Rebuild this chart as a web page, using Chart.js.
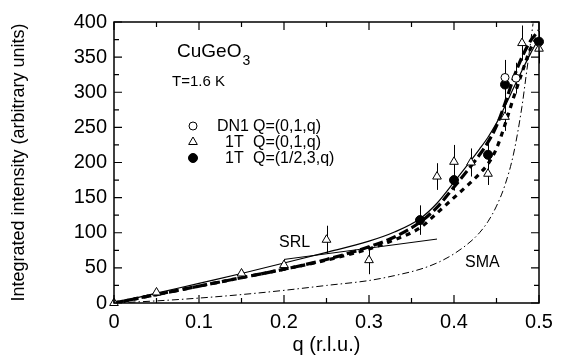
<!DOCTYPE html>
<html><head><meta charset="utf-8">
<script src="https://cdn.jsdelivr.net/npm/chart.js@4/dist/chart.umd.min.js"></script>
<style>html,body{margin:0;padding:0;background:#fff}#wrap{width:567px;height:360px;position:relative}</style>
</head><body><div id="wrap"><canvas id="c" width="567" height="360"></canvas></div>
<script>
// ---- data ----
const xTickLabels = ['0', '0.1', '0.2', '0.3', '0.4', '0.5'];
const yTickLabels = ['0', '50', '100', '150', '200', '250', '300', '350', '400'];

// fitted curves
const fitQ         = [0, 0.05, 0.1, 0.15, 0.2, 0.25, 0.3, 0.33, 0.36, 0.38, 0.4, 0.42, 0.43, 0.44, 0.45, 0.46, 0.47, 0.48, 0.49, 0.5];
const fitSolid     = [0, 14, 28, 42, 57, 72, 88, 101, 120, 142, 172, 203, 219, 236, 256, 280, 306, 331, 355, 377];
const fitLongDash  = [0, 12, 24, 36, 48, 62, 80, 94, 115, 136, 165, 195, 211, 229, 252, 284, 320, 350, 373, 388];
const fitShortDash = [0, 12, 24, 36, 48, 61, 77, 90, 107, 128, 150, 172, 184, 198, 220, 254, 292, 328, 362, 382];
const smaQ = [0, 0.05, 0.1, 0.15, 0.2, 0.25, 0.3, 0.33, 0.36, 0.38, 0.4, 0.42, 0.43, 0.44, 0.45, 0.46, 0.47, 0.48, 0.485, 0.49, 0.493];
const smaY = [0, 3, 7, 12, 18, 25, 32, 39, 48, 57, 70, 88, 100, 116, 138, 168, 212, 280, 325, 370, 398];
const srlQ = [0.2, 0.38];
const srlY = [62, 91];

// measured points
const dn1Q   = [0.46, 0.473];
const dn1Y   = [321, 320];
const dn1Err = [25, 22];
const t1Q    = [0, 0.05, 0.15, 0.2, 0.25, 0.3, 0.38, 0.4, 0.42, 0.44, 0.46, 0.48, 0.5];
const t1Y    = [0, 15, 42, 54, 90, 61, 180, 201, 200, 184, 265, 370, 362];
const t1Err  = [0, 3, 5, 8, 20, 20, 19, 24, 20, 16, 20, 25, 21];
const t2Q    = [0.36, 0.4, 0.44, 0.46, 0.5];
const t2Y    = [118, 175, 211, 311, 372];
const t2Err  = [21, 15, 17, 25, 15];

const FONT = '"Liberation Sans", Arial, Helvetica, sans-serif';
const pts = (xs, ys) => xs.map((x, i) => ({x: x, y: ys[i]}));

const errorSets = [[dn1Q, dn1Y, dn1Err], [t1Q, t1Y, t1Err], [t2Q, t2Y, t2Err]];

const decor = {
  id: 'decor',
  beforeDatasetsDraw(chart) {
    const ctx = chart.ctx, xs = chart.scales.x, ys = chart.scales.y;
    ctx.save();
    ctx.strokeStyle = '#000';
    ctx.lineWidth = 1;
    errorSets.forEach(([q, v, e]) => {
      q.forEach((qq, i) => {
        if (!e[i]) return;
        const px = Math.round(xs.getPixelForValue(qq)) + 0.5;
        const y1 = ys.getPixelForValue(Math.min(v[i] + e[i], 400));
        const y2 = ys.getPixelForValue(v[i] - e[i]);
        ctx.beginPath(); ctx.moveTo(px, y1); ctx.lineTo(px, y2); ctx.stroke();
      });
    });
    ctx.restore();
  },
  afterDraw(chart) {
    const ctx = chart.ctx, a = chart.chartArea, xs = chart.scales.x, ys = chart.scales.y;
    ctx.save();
    ctx.strokeStyle = '#000';
    ctx.lineWidth = 1.5;
    ctx.strokeRect(a.left, a.top, a.right - a.left, a.bottom - a.top);
    ctx.lineWidth = 1.2;
    // x ticks every 0.05
    for (let k = 0; k <= 10; k++) {
      const v = k * 0.05;
      const px = xs.getPixelForValue(v);
      const len = (k % 2 === 0) ? 8 : 5;
      ctx.beginPath();
      ctx.moveTo(px, a.bottom); ctx.lineTo(px, a.bottom - len);
      ctx.moveTo(px, a.top); ctx.lineTo(px, a.top + len);
      ctx.stroke();
    }
    // y ticks every 25
    for (let k = 0; k <= 16; k++) {
      const v = k * 25;
      const py = ys.getPixelForValue(v);
      const len = (k % 2 === 0) ? 8 : 5;
      ctx.beginPath();
      ctx.moveTo(a.left, py); ctx.lineTo(a.left + len, py);
      ctx.moveTo(a.right, py); ctx.lineTo(a.right - len, py);
      ctx.stroke();
    }
    // annotations
    ctx.fillStyle = '#000';
    ctx.textBaseline = 'alphabetic';
    ctx.textAlign = 'left';
    ctx.font = '19px ' + FONT;
    ctx.fillText('CuGeO', 177, 57);
    const w = ctx.measureText('CuGeO').width;
    ctx.font = '14px ' + FONT;
    ctx.fillText('3', 177 + w + 1, 65);
    ctx.font = '15px ' + FONT;
    ctx.fillText('T=1.6 K', 172, 86);
    ctx.font = '16px ' + FONT;
    ctx.fillText('SRL', 279, 247);
    ctx.fillText('SMA', 465, 267);
    // legend
    ctx.font = '16px ' + FONT;
    const rows = [
      {y: 126, style: 'circle', r: 4, fill: '#fff', a: 'DN1', ax: 217, b: 'Q=(0,1,q)'},
      {y: 142, style: 'triangle', r: 5, fill: '#fff', a: '1T', ax: 225, b: 'Q=(0,1,q)'},
      {y: 158, style: 'circle', r: 4.5, fill: '#000', a: '1T', ax: 225, b: 'Q=(1/2,3,q)'}
    ];
    rows.forEach(r => {
      ctx.fillStyle = r.fill; ctx.strokeStyle = '#000'; ctx.lineWidth = 1;
      Chart.helpers.drawPoint(ctx, {pointStyle: r.style, radius: r.r, borderWidth: 1, rotation: 0}, 193, r.y);
      ctx.fillStyle = '#000';
      ctx.textBaseline = 'middle';
      ctx.fillText(r.a, r.ax, r.y + 1);
      ctx.fillText(r.b, 253, r.y + 1);
    });
    ctx.restore();
  }
};

new Chart(document.getElementById('c'), {
  type: 'scatter',
  data: {
    datasets: [
      {label: 'DN1 Q=(0,1,q)', data: pts(dn1Q, dn1Y), pointStyle: 'circle', pointRadius: 4, pointBorderWidth: 1,
       borderColor: '#000', backgroundColor: '#fff', showLine: false, clip: false},
      {label: '1T Q=(0,1,q)', data: pts(t1Q, t1Y), pointStyle: 'triangle', pointRadius: 5, pointBorderWidth: 1,
       borderColor: '#000', backgroundColor: '#fff', showLine: false, clip: false},
      {label: '1T Q=(1/2,3,q)', data: pts(t2Q, t2Y), pointStyle: 'circle', pointRadius: 4.5, pointBorderWidth: 1,
       borderColor: '#000', backgroundColor: '#000', showLine: false, clip: false},
      {label: 'fit solid', data: pts(fitQ, fitSolid), showLine: true, pointRadius: 0, borderColor: '#000',
       borderWidth: 1.2, cubicInterpolationMode: 'monotone'},
      {label: 'fit long dash', data: pts(fitQ, fitLongDash), showLine: true, pointRadius: 0, borderColor: '#000',
       borderWidth: 3.2, borderDash: [10, 4], cubicInterpolationMode: 'monotone'},
      {label: 'fit short dash', data: pts(fitQ, fitShortDash), showLine: true, pointRadius: 0, borderColor: '#000',
       borderWidth: 3.2, borderDash: [5, 5], cubicInterpolationMode: 'monotone'},
      {label: 'SMA', data: pts(smaQ, smaY), showLine: true, pointRadius: 0, borderColor: '#000',
       borderWidth: 1, borderDash: [7, 3, 1.5, 3], cubicInterpolationMode: 'monotone'},
      {label: 'SRL', data: pts(srlQ, srlY), showLine: true, pointRadius: 0, borderColor: '#000', borderWidth: 1}
    ]
  },
  options: {
    responsive: false,
    animation: false,
    devicePixelRatio: 1,
    events: [],
    layout: {padding: {left: 0, right: 28, top: 22, bottom: 0}},
    plugins: {legend: {display: false}, tooltip: {enabled: false}},
    scales: {
      x: {
        type: 'linear', min: 0, max: 0.5,
        afterFit(s) { s.height = 57; },
        afterBuildTicks(s) { s.ticks = xTickLabels.map(t => ({value: parseFloat(t)})); },
        ticks: {callback: (v, i) => xTickLabels[i], color: '#000', padding: 7, maxRotation: 0,
                font: {family: FONT, size: 20}},
        grid: {display: false, drawTicks: false},
        border: {display: false},
        title: {display: true, text: 'q (r.l.u.)', color: '#000', font: {family: FONT, size: 20},
                padding: {top: 0, bottom: 3}}
      },
      y: {
        type: 'linear', min: 0, max: 400,
        afterFit(s) { s.width = 114; },
        afterBuildTicks(s) { s.ticks = yTickLabels.map(t => ({value: parseFloat(t)})); },
        ticks: {callback: (v, i) => yTickLabels[i], color: '#000', padding: 7,
                font: {family: FONT, size: 20}},
        grid: {display: false, drawTicks: false},
        border: {display: false},
        title: {display: true, text: 'Integrated intensity (arbitrary units)', color: '#000',
                font: {family: FONT, size: 18}, padding: {top: 8, bottom: 0}}
      }
    }
  },
  plugins: [decor]
});
</script>
</body></html>
